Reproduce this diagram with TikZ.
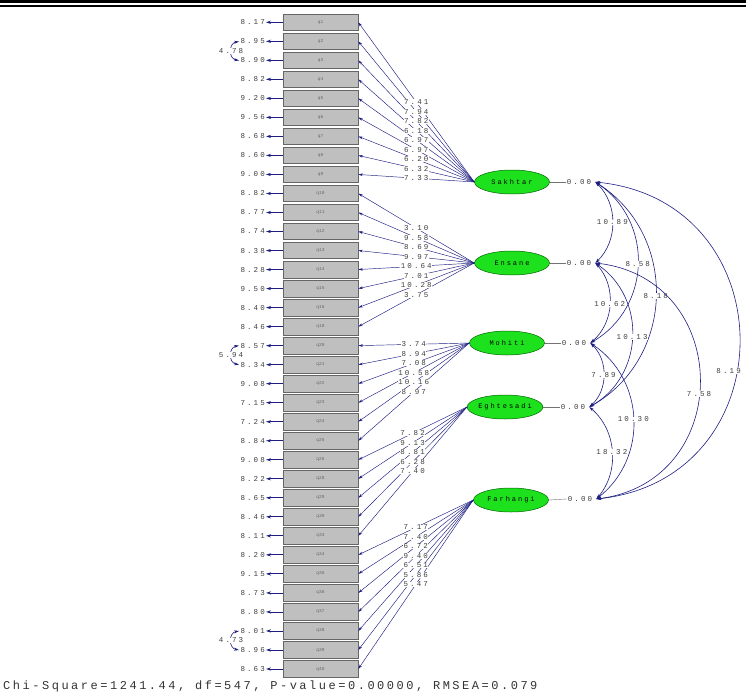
\documentclass[tikz,border=0pt]{standalone}
\usepackage{fontspec}
\usetikzlibrary{shapes.geometric,arrows.meta}
\newfontfamily\lsm[LetterSpace=28]{Liberation Mono}
\newfontfamily\lbg[LetterSpace=21]{Liberation Mono}
\newfontfamily\lbx{Liberation Mono}
\definecolor{navy}{RGB}{30,30,130}
\definecolor{ellg}{RGB}{30,225,30}
\tikzset{
  obs/.style={draw=black!60, fill=black!25, line width=0.6pt, minimum width=75pt, minimum height=16.5pt, inner sep=0pt, font=\lbx\fontsize{4.5}{5}\selectfont, text=black!60},
  lat/.style={ellipse, draw=green!40!black, fill=ellg, line width=0.5pt, minimum width=75pt, minimum height=24pt, inner sep=0pt, font=\lsm\fontsize{7}{8}\selectfont},
  errlab/.style={font=\lsm\fontsize{7.5}{8}\selectfont, text=black!75, inner sep=1pt, anchor=east},
  loadlab/.style={font=\lsm\fontsize{7.5}{8}\selectfont, text=black!75, fill=white, inner sep=0.4pt},
  covlab/.style={font=\lsm\fontsize{7.5}{8}\selectfont, text=black!75, fill=white, inner sep=0.4pt},
  varlab/.style={font=\lsm\fontsize{7.5}{8}\selectfont, text=black!75, inner sep=1pt},
  load/.style={draw=navy, line width=0.45pt, -{Stealth[length=4.5pt,width=2.6pt]}},
  errarr/.style={draw=navy, line width=0.8pt, -{Stealth[length=5pt,width=3.2pt]}},
  cov/.style={draw=navy, line width=0.6pt, {Stealth[length=5pt,width=3pt]}-{Stealth[length=5pt,width=3pt]}},
  varline/.style={draw=black!55, line width=0.4pt}
}
\begin{document}
\begin{tikzpicture}[x=1pt,y=-1pt]
\useasboundingbox (0,0) rectangle (746,693);
\fill[black] (0,0) rectangle (746,3.5);
\draw[black, line width=1.2pt] (0,6) -- (746,6);

% observed variables with error terms
\foreach \i/\q/\e in {1/q1/8.17,2/q2/8.95,3/q3/8.90,4/q4/8.82,5/q5/9.20,6/q6/9.56,7/q7/8.68,8/q8/8.60,9/q9/9.00,
  10/q10/8.82,11/q11/8.77,12/q12/8.74,13/q13/8.38,14/q14/8.28,15/q15/9.50,16/q16/8.40,17/q18/8.46,
  18/q20/8.57,19/q21/8.34,20/q22/9.08,21/q23/7.15,22/q24/7.24,23/q25/8.84,
  24/q26/9.08,25/q28/8.22,26/q29/8.65,27/q30/8.46,28/q33/8.11,
  29/q34/8.20,30/q35/9.15,31/q36/8.73,32/q37/8.80,33/q38/8.01,34/q39/8.96,35/q40/8.63}{
  \pgfmathsetmacro\yy{22.3+(\i-1)*19.02}
  \node[obs] (b\i) at (320.5,\yy) {\q};
  \node[errlab] (e\i) at (266,\yy) {\e};
  \draw[errarr] (b\i.west) -- (e\i.east);
}

% latent variables
\node[lat] (sak) at (512,182) {Sakhtar};
\node[lat] (ens) at (512,263) {Ensane};
\node[lat] (moh) at (507,343) {Mohiti};
\node[lat] (egh) at (505,407) {Eghtesadi};
\node[lat] (far) at (511,500) {Farhangi};

% loadings
\foreach \r in {1,...,9}{\draw[load] (sak.west) -- (b\r.east);}
\foreach \r in {10,...,17}{\draw[load] (ens.west) -- (b\r.east);}
\foreach \r in {18,...,23}{\draw[load] (moh.west) -- (b\r.east);}
\foreach \r in {24,...,28}{\draw[load] (egh.west) -- (b\r.east);}
\foreach \r in {29,...,35}{\draw[load] (far.west) -- (b\r.east);}
\foreach \r/\v in {1/7.41,2/7.94,3/7.82,4/6.18,5/6.97,6/6.97,7/6.20,8/6.32,9/7.33}{
  \path (sak.west) -- node[loadlab]{\v} (b\r.east);}
\foreach \r/\v in {10/3.10,11/9.58,12/8.69,13/9.97,14/10.64,15/7.01,16/10.28,17/3.75}{
  \path (ens.west) -- node[loadlab]{\v} (b\r.east);}
\foreach \r/\v in {18/3.74,19/8.94,20/7.08,21/10.58,22/10.16,23/8.97}{
  \path (moh.west) -- node[loadlab]{\v} (b\r.east);}
\foreach \r/\v in {24/7.82,25/9.13,26/8.81,27/6.28,28/7.40}{
  \path (egh.west) -- node[loadlab]{\v} (b\r.east);}
\foreach \r/\v in {29/7.17,30/7.40,31/6.72,32/9.40,33/6.51,34/5.86,35/5.47}{
  \path (far.west) -- node[loadlab]{\v} (b\r.east);}

% factor variances
\node[varlab] (v1) at (579,182) {0.00};
\node[varlab] (v2) at (579,263) {0.00};
\node[varlab] (v3) at (574,343) {0.00};
\node[varlab] (v4) at (573,407) {0.00};
\node[varlab] (v5) at (580,499) {0.00};
\draw[varline] (sak.east) -- (v1.west);
\draw[varline] (ens.east) -- (v2.west);
\draw[varline] (moh.east) -- (v3.west);
\draw[varline] (egh.east) -- (v4.west);
\draw[varline] (far.east) -- (v5.west);
\coordinate (c1) at ([xshift=3pt]v1.east);
\coordinate (c2) at ([xshift=3pt]v2.east);
\coordinate (c3) at ([xshift=3pt]v3.east);
\coordinate (c4) at ([xshift=3pt]v4.east);
\coordinate (c5) at ([xshift=3pt]v5.east);

% covariances
\draw[cov] (c1) to[bend left=46] node[covlab]{10.89} (c2);
\draw[cov] (c1) to[bend left=58,looseness=1.12] node[covlab]{8.58} (c3);
\draw[cov] (c1) to[bend left=59,looseness=1.12] node[covlab]{8.18} (c4);
\draw[cov] (c1) to[bend left=84,looseness=1.55] node[covlab,pos=0.57,xshift=-8pt]{8.19} (c5);
\draw[cov] (c2) to[bend left=46] node[covlab]{10.62} (c3);
\draw[cov] (c2) to[bend left=58,looseness=1.11] node[covlab]{10.13} (c4);
\draw[cov] (c2) to[bend left=83,looseness=1.51] node[covlab,pos=0.54]{7.58} (c5);
\draw[cov] (c3) to[bend left=47] node[covlab]{7.89} (c4);
\draw[cov] (c3) to[bend left=54,looseness=1.08] node[covlab]{10.30} (c5);
\draw[cov] (c4) to[bend left=45] node[covlab]{18.32} (c5);

% correlated errors
\coordinate (k2) at (239,41.5);
\coordinate (k3) at (239,60.5);
\coordinate (k18) at (239,345.6);
\coordinate (k19) at (239,364.6);
\coordinate (k33) at (239,631);
\coordinate (k34) at (239,650);
\draw[cov] (k2) to[bend right=80,looseness=1.45] node[covlab,pos=0.5]{4.78} (k3);
\draw[cov] (k18) to[bend right=80,looseness=1.45] node[covlab,pos=0.5]{5.94} (k19);
\draw[cov] (k33) to[bend right=80,looseness=1.45] node[covlab,pos=0.5]{4.73} (k34);

% fit statistics
\node[anchor=base west, inner sep=0pt, text=black!80, font=\lbg\fontsize{12}{14}\selectfont] (chi) at (3,689) {Chi-Square=1241.44, df=547, P-value=0.00000, RMSEA=0.079};
\end{tikzpicture}
\end{document}
